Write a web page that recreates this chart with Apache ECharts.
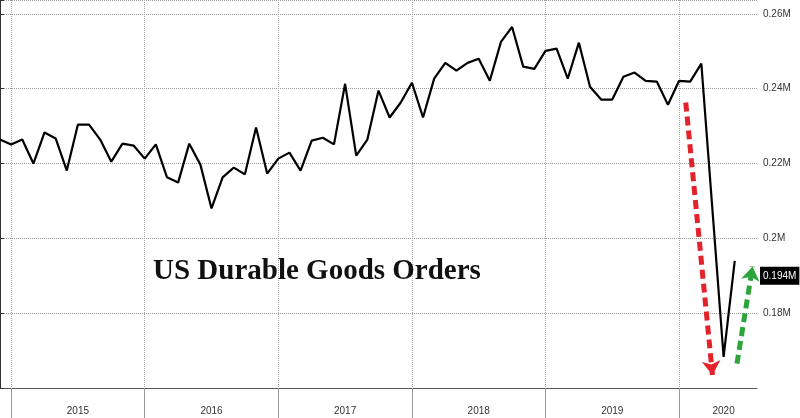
<!DOCTYPE html>
<html>
<head>
<meta charset="utf-8">
<script src="https://cdn.jsdelivr.net/npm/echarts@6/dist/echarts.min.js"></script>
<style>html,body{margin:0;padding:0;background:#fff}#main{width:800px;height:418px}</style>
</head>
<body>
<div id="main"></div>
<script>
// monthly, Dec 2014 .. Aug 2020 (millions)
var months = [];
months.push('2014-12');
for (var y = 2015; y <= 2020; y++) {
  for (var m = 1; m <= 12; m++) {
    if (y === 2020 && m > 8) break;
    months.push(y + '-' + (m < 10 ? '0' + m : m));
  }
}
var orders = [
  0.2264,
  0.2251, 0.2264, 0.2200, 0.2283, 0.2267, 0.2181, 0.2304, 0.2304, 0.2264, 0.2205, 0.2253, 0.2248,
  0.2213, 0.2251, 0.2163, 0.2149, 0.2253, 0.2197, 0.2080, 0.2163, 0.2189, 0.2171, 0.2296, 0.2173,
  0.2213, 0.2229, 0.2181, 0.2261, 0.2269, 0.2251, 0.2413, 0.2221, 0.2264, 0.2395, 0.2323, 0.2363,
  0.2416, 0.2323, 0.2427, 0.2469, 0.2448, 0.2469, 0.2480, 0.2421, 0.2525, 0.2565, 0.2459, 0.2453,
  0.2501, 0.2507, 0.2427, 0.2523, 0.2405, 0.2371, 0.2371, 0.2432, 0.2443, 0.2421, 0.2419, 0.2357,
  0.2421, 0.2419, 0.2467, 0.2075, 0.1683, 0.194, null, null, null
];
var lastValue = 0.194;
// arrows: [month index, value] start -> end
var redArrow = [[61.6, 0.2363], [64.0, 0.1635]];
var greenArrow = [[66.2, 0.1665], [67.6, 0.1925]];

var myChart = echarts.init(document.getElementById('main'));

myChart.setOption({
  backgroundColor: '#fff',
  animation: false,
  title: {
    text: 'US Durable Goods Orders',
    left: 148, top: 252,
    textStyle: {fontFamily: 'Liberation Serif', fontWeight: 'bold', fontSize: 29, color: '#111'}
  },
  grid: {left: 0, right: 43, top: 0, bottom: 30},
  xAxis: [{
    type: 'category',
    data: months,
    boundaryGap: false,
    axisLine: {lineStyle: {color: '#555'}},
    axisTick: {
      length: 30, lineStyle: {color: '#999'},
      interval: function (i, v) { return v.slice(5) === '01'; }
    },
    axisLabel: {
      interval: function (i, v) { return v.slice(5) === '07' || v === '2020-05'; },
      formatter: function (v) { return (v.slice(5) === '07' && v.slice(0, 4) === '2020') ? '' : v.slice(0, 4); },
      margin: 18, fontSize: 10, color: '#333', fontFamily: 'Liberation Sans'
    },
    splitLine: {
      show: true,
      interval: function (i, v) { return v.slice(5) === '01'; },
      lineStyle: {type: 'dotted', color: '#aaa'}
    }
  }, {
    type: 'value', min: 0, max: 68, show: false
  }],
  yAxis: {
    type: 'value',
    position: 'right',
    min: 0.16, max: 0.2637, interval: 0.02,
    axisLine: {show: true, lineStyle: {color: '#333'}},
    axisTick: {show: true, inside: false, length: 4, lineStyle: {color: '#333'}},
    axisLabel: {
      formatter: function (v) { return (v >= 0.2636 || v < 0.17) ? '' : +v.toFixed(2) + 'M'; },
      fontSize: 10, color: '#333', margin: 6, fontFamily: 'Liberation Sans'
    },
    splitLine: {lineStyle: {type: 'dotted', color: '#999'}}
  },
  series: [{
    type: 'line',
    data: orders,
    symbol: 'none',
    lineStyle: {color: '#000', width: 2.2},
    markLine: {
      silent: true, symbol: 'none',
      lineStyle: {color: 'rgba(0,0,0,0)', width: 0},
      label: {
        show: true, position: 'end', distance: 3, formatter: '0.194M',
        backgroundColor: '#000', color: '#fff', padding: [4, 3], fontSize: 10
      },
      data: [{yAxis: lastValue}]
    }
  }, {
    type: 'line', xAxisIndex: 1, data: [], symbol: 'none',
    markLine: {
      silent: true, symbol: ['none', 'arrow'], symbolSize: 14,
      label: {show: false},
      data: [
        [{coord: redArrow[0], lineStyle: {color: '#e3222b', type: [9, 5], width: 5}},
         {coord: redArrow[1]}],
        [{coord: greenArrow[0], lineStyle: {color: '#2ca53a', type: [9, 5], width: 5}},
         {coord: greenArrow[1]}]
      ]
    }
  }]
});
</script>
</body>
</html>
